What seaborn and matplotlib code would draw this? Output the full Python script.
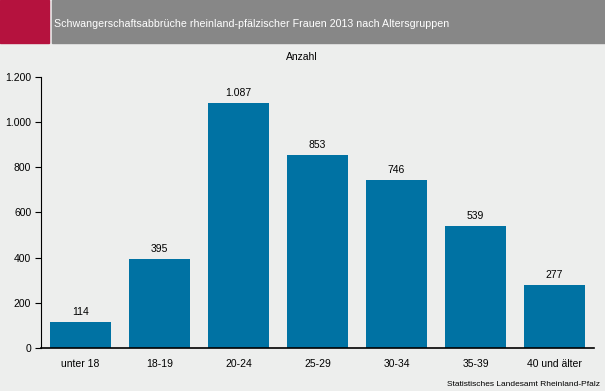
import numpy as np
import pandas as pd
import matplotlib
matplotlib.use("Agg")
import matplotlib.pyplot as plt
import matplotlib.patches as mpatches
import seaborn as sns

groups = ["unter 18", "18-19", "20-24", "25-29", "30-34", "35-39", "40 und älter"]
counts = [114, 395, 1087, 853, 746, 539, 277]
y_ticks = [0, 200, 400, 600, 800, 1000, 1200]
y_labels = ["0", "200", "400", "600", "800", "1.000", "1.200"]

bg = "#EDEEED"
bar_color = "#0072A3"

sns.set_style("white")
plt.rcParams["font.family"] = ["Liberation Sans", "DejaVu Sans"]
plt.rcParams["text.color"] = "black"
plt.rcParams["xtick.color"] = "black"
plt.rcParams["ytick.color"] = "black"

df = pd.DataFrame({"Altersgruppe": groups, "Anzahl": counts})

fig = plt.figure(figsize=(6.05, 3.91), dpi=100)
fig.patch.set_facecolor(bg)

# header band
fig.patches.append(mpatches.Rectangle((0, 1 - 43 / 391), 49 / 605, 43 / 391,
                                      transform=fig.transFigure, color="#B5123E", zorder=0))
fig.patches.append(mpatches.Rectangle((52 / 605, 1 - 43 / 391), 553 / 605, 43 / 391,
                                      transform=fig.transFigure, color="#878787", zorder=0))
fig.text(54 / 605, 1 - 24 / 391, "Schwangerschaftsabbrüche rheinland-pfälzischer Frauen 2013 nach Altersgruppen",
         color="white", fontsize=7.7, va="center", ha="left")

ax = fig.add_axes([41 / 605, 1 - 348 / 391, 553 / 605, (348 - 77) / 391])
ax.set_facecolor(bg)
sns.barplot(data=df, x="Altersgruppe", y="Anzahl", color=bar_color, width=0.77,
            saturation=1, linewidth=0, ax=ax)

for i, v in enumerate(counts):
    ax.text(i, v + 22, f"{v:,}".replace(",", "."), ha="center", va="bottom", fontsize=7.5)

ax.set_ylim(0, 1200)
ax.set_xlim(-0.5, len(groups) - 0.5)
ax.set_yticks(y_ticks)
ax.set_yticklabels(y_labels, fontsize=7.5)
ax.set_xticks(range(len(groups)))
ax.set_xticklabels(groups, fontsize=7.5)
ax.set_xticks(np.arange(-0.5, len(groups), 1), minor=True)
ax.tick_params(axis="x", which="major", length=0, pad=8)
ax.tick_params(axis="x", which="minor", length=4, width=0.8, direction="out", color="black")
ax.tick_params(axis="y", length=4, width=0.8, direction="out", color="black", pad=3, left=True)
ax.set_xlabel("")
ax.set_ylabel("")
for s in ["top", "right"]:
    ax.spines[s].set_visible(False)
ax.spines["left"].set_color("black")
ax.spines["left"].set_linewidth(0.8)
ax.spines["bottom"].set_color("black")
ax.spines["bottom"].set_linewidth(1.2)

fig.text(302 / 605, 1 - 57 / 391, "Anzahl", ha="center", va="center", fontsize=7.5)
fig.text(600 / 605, 1 - 384 / 391, "Statistisches Landesamt Rheinland-Pfalz",
         ha="right", va="center", fontsize=6)

fig.savefig("out.png", dpi=100, facecolor=bg)
